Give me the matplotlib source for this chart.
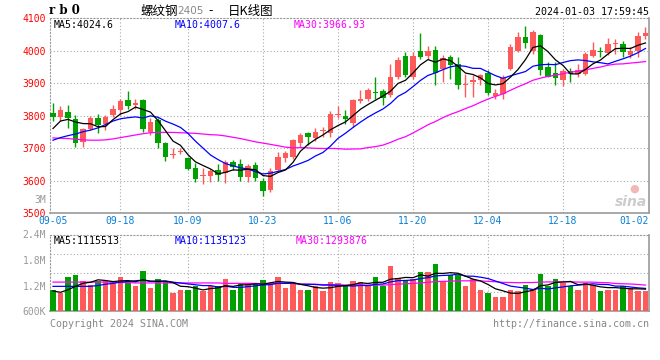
import matplotlib.pyplot as plt

# K-line data, one entry per trading day 2023-09-05 .. 2024-01-03
opens = [3809, 3796, 3812, 3788, 3718, 3760, 3791, 3775, 3803, 3816,
         3847, 3832, 3847, 3748, 3786, 3714, 3680, 3689, 3668, 3638,
         3613, 3615, 3631, 3622, 3656, 3651, 3612, 3648, 3600, 3572,
         3633, 3670, 3673, 3716, 3747, 3732, 3752, 3745, 3802, 3798,
         3776, 3844, 3850, 3872, 3874, 3862, 3918, 3982, 3920, 4000,
         3983, 4003, 3942, 3980, 3957, 3894, 3902, 3908, 3931, 3860,
         3866, 3944, 3997, 4042, 3997, 4048, 3949, 3931, 3910, 3937,
         3927, 3929, 3984, 3999, 3993, 4020, 4020, 3987, 4000, 4045]
highs = [3837, 3830, 3832, 3801, 3762, 3798, 3804, 3801, 3832, 3850,
         3874, 3852, 3852, 3791, 3791, 3719, 3699, 3701, 3673, 3653,
         3638, 3636, 3650, 3663, 3663, 3666, 3651, 3658, 3607, 3638,
         3689, 3691, 3727, 3745, 3750, 3762, 3765, 3813, 3830, 3816,
         3852, 3877, 3885, 3918, 3881, 3959, 3980, 3995, 3995, 4053,
         4015, 4015, 3985, 3985, 3979, 3929, 3924, 3929, 3939, 3883,
         3924, 4020, 4057, 4076, 4063, 4050, 3964, 3964, 3944, 3946,
         3957, 3995, 4027, 4012, 4038, 4035, 4030, 4010, 4057, 4071]
lows = [3783, 3783, 3762, 3704, 3704, 3755, 3745, 3755, 3796, 3801,
        3821, 3821, 3750, 3740, 3701, 3661, 3670, 3681, 3632, 3595,
        3589, 3595, 3600, 3592, 3633, 3600, 3595, 3599, 3553, 3566,
        3628, 3658, 3666, 3704, 3709, 3721, 3735, 3735, 3791, 3775,
        3765, 3840, 3846, 3852, 3832, 3857, 3913, 3918, 3913, 3974,
        3974, 3895, 3903, 3913, 3883, 3858, 3856, 3893, 3863, 3852,
        3852, 3941, 3995, 4008, 3990, 3924, 3918, 3893, 3890, 3902,
        3920, 3924, 3981, 3979, 3987, 3990, 3979, 3977, 3981, 4035]
closes = [3796, 3816, 3793, 3714, 3757, 3793, 3770, 3796, 3821, 3844,
          3829, 3840, 3758, 3781, 3714, 3673, 3681, 3692, 3636, 3605,
          3617, 3628, 3617, 3658, 3643, 3612, 3646, 3607, 3568, 3630,
          3671, 3686, 3724, 3740, 3733, 3750, 3754, 3804, 3804, 3789,
          3847, 3852, 3877, 3870, 3854, 3920, 3972, 3926, 3982, 3980,
          4000, 3932, 3976, 3956, 3893, 3896, 3910, 3924, 3870, 3870,
          3916, 4010, 4042, 4022, 4057, 3941, 3920, 3916, 3937, 3927,
          3939, 3990, 4002, 3995, 4020, 4022, 3995, 3999, 4045, 4055]

ma5 = [3760, 3783, 3788, 3780, 3775.2, 3774.6, 3765.4, 3766.0, 3787.4, 3804.8,
       3812.0, 3826.0, 3818.4, 3810.4, 3784.4, 3753.2, 3721.4, 3708.2, 3679.2, 3657.4,
       3646.2, 3635.6, 3620.6, 3625.0, 3632.6, 3631.6, 3635.2, 3633.2, 3615.2, 3612.6,
       3624.4, 3632.4, 3655.8, 3690.2, 3710.8, 3726.6, 3740.2, 3756.2, 3769.0, 3780.2,
       3799.6, 3819.2, 3833.8, 3847.0, 3860.0, 3874.6, 3898.6, 3908.4, 3930.8, 3956.0,
       3972.0, 3964.0, 3974.0, 3968.8, 3951.4, 3930.6, 3926.2, 3915.8, 3898.6, 3894.0,
       3898.0, 3918.0, 3941.6, 3972.0, 4009.4, 4014.4, 3996.4, 3971.2, 3954.2, 3928.2,
       3927.8, 3941.8, 3959.0, 3970.6, 3989.2, 4005.8, 4006.8, 4006.2, 4016.2, 4023.2]
ma10 = [3724, 3732, 3738, 3743, 3750, 3755, 3762, 3772, 3783, 3790.0,
        3793.3, 3795.7, 3792.2, 3798.9, 3794.6, 3782.6, 3773.7, 3763.3, 3744.8, 3720.9,
        3699.7, 3678.5, 3664.4, 3652.1, 3645.0, 3638.9, 3635.4, 3626.9, 3620.1, 3622.6,
        3628.0, 3633.8, 3644.5, 3652.7, 3661.7, 3675.5, 3686.3, 3706.0, 3729.6, 3745.5,
        3763.1, 3779.7, 3795.0, 3808.0, 3820.1, 3837.1, 3858.9, 3871.1, 3888.9, 3908.0,
        3923.3, 3931.3, 3941.2, 3949.8, 3953.7, 3951.3, 3945.1, 3944.9, 3933.7, 3922.7,
        3914.3, 3922.1, 3928.7, 3935.3, 3951.7, 3956.2, 3957.2, 3956.4, 3963.1, 3968.8,
        3971.1, 3969.1, 3965.1, 3962.4, 3958.7, 3966.8, 3974.3, 3982.6, 3993.4, 4006.2]
ma30 = [3731, 3730, 3729, 3727, 3725, 3724, 3724, 3725, 3728, 3732,
        3736, 3740, 3744, 3747, 3748, 3748, 3748, 3747, 3746, 3745,
        3743, 3741, 3740, 3737, 3733, 3729, 3724, 3719, 3715, 3711.2,
        3707.0, 3702.7, 3700.4, 3701.2, 3700.4, 3699.0, 3698.5, 3698.7, 3698.2, 3696.3,
        3696.9, 3697.3, 3701.3, 3704.3, 3708.9, 3717.2, 3726.9, 3734.7, 3746.2, 3758.7,
        3771.5, 3781.6, 3793.6, 3803.5, 3811.8, 3821.3, 3830.1, 3840.7, 3850.7, 3858.7,
        3866.9, 3877.7, 3888.3, 3897.7, 3908.5, 3914.9, 3920.4, 3924.1, 3928.6, 3933.2,
        3936.2, 3940.8, 3945.0, 3949.2, 3954.7, 3958.1, 3958.9, 3961.3, 3963.4, 3965.9]

# volume, millions of lots
volumes = [1.10, 1.02, 1.39, 1.44, 1.31, 1.22, 1.31, 1.31, 1.31, 1.39,
           1.26, 1.18, 1.53, 1.15, 1.36, 1.28, 1.02, 1.10, 1.10, 1.19,
           1.07, 1.18, 1.18, 1.36, 1.10, 1.24, 1.22, 1.27, 1.33, 1.26,
           1.39, 1.15, 1.23, 1.10, 1.10, 1.19, 1.07, 1.28, 1.26, 1.18,
           1.31, 1.29, 1.20, 1.39, 1.19, 1.67, 1.37, 1.33, 1.36, 1.52,
           1.52, 1.71, 1.31, 1.45, 1.45, 1.18, 1.36, 1.10, 1.03, 0.94,
           0.94, 1.10, 1.06, 1.22, 1.12, 1.48, 1.19, 1.36, 1.26, 1.19,
           1.10, 1.26, 1.22, 1.07, 1.10, 1.10, 1.19, 1.15, 1.07, 1.06]
vma5 = [1.07, 1.04, 1.10, 1.18, 1.252, 1.276, 1.334, 1.318, 1.292, 1.308,
        1.316, 1.290, 1.334, 1.302, 1.296, 1.300, 1.268, 1.182, 1.172, 1.138,
        1.096, 1.128, 1.144, 1.196, 1.178, 1.212, 1.220, 1.238, 1.232, 1.264,
        1.294, 1.280, 1.272, 1.226, 1.194, 1.154, 1.138, 1.148, 1.180, 1.196,
        1.220, 1.264, 1.248, 1.274, 1.276, 1.348, 1.364, 1.390, 1.384, 1.450,
        1.420, 1.488, 1.484, 1.502, 1.488, 1.420, 1.350, 1.308, 1.224, 1.122,
        1.074, 1.022, 1.014, 1.052, 1.088, 1.196, 1.214, 1.274, 1.282, 1.296,
        1.220, 1.234, 1.206, 1.168, 1.150, 1.150, 1.136, 1.122, 1.122, 1.114]
vma10 = [1.18, 1.18, 1.18, 1.18, 1.18, 1.18, 1.20, 1.23, 1.25, 1.280,
         1.296, 1.312, 1.326, 1.297, 1.302, 1.308, 1.279, 1.258, 1.237, 1.217,
         1.198, 1.198, 1.163, 1.184, 1.158, 1.154, 1.174, 1.191, 1.214, 1.221,
         1.253, 1.250, 1.255, 1.229, 1.229, 1.224, 1.209, 1.210, 1.203, 1.195,
         1.187, 1.201, 1.198, 1.227, 1.236, 1.284, 1.314, 1.319, 1.329, 1.363,
         1.384, 1.426, 1.437, 1.443, 1.469, 1.420, 1.419, 1.396, 1.363, 1.305,
         1.247, 1.186, 1.161, 1.138, 1.105, 1.135, 1.118, 1.144, 1.167, 1.192,
         1.208, 1.224, 1.240, 1.225, 1.223, 1.185, 1.185, 1.164, 1.145, 1.132]
vma30 = [1.28, 1.28, 1.28, 1.28, 1.28, 1.28, 1.28, 1.28, 1.28, 1.27,
         1.27, 1.26, 1.26, 1.26, 1.26, 1.26, 1.26, 1.26, 1.26, 1.26,
         1.26, 1.26, 1.26, 1.25, 1.25, 1.25, 1.25, 1.25, 1.24, 1.239,
         1.249, 1.253, 1.248, 1.237, 1.230, 1.229, 1.221, 1.220, 1.218, 1.211,
         1.213, 1.216, 1.205, 1.213, 1.208, 1.221, 1.232, 1.240, 1.249, 1.260,
         1.275, 1.292, 1.297, 1.300, 1.311, 1.309, 1.314, 1.308, 1.298, 1.288,
         1.273, 1.271, 1.265, 1.269, 1.270, 1.280, 1.284, 1.286, 1.286, 1.287,
         1.280, 1.279, 1.279, 1.269, 1.266, 1.247, 1.241, 1.235, 1.225, 1.210]

date_labels = ['09-05', '09-18', '10-09', '10-23', '11-06', '11-20', '12-04', '12-18', '01-02']
date_index = [0, 9, 18, 28, 38, 48, 58, 68, 78]
price_ticks = [3500, 3600, 3700, 3800, 3900, 4000, 4100]
vol_ticks = [0.6, 1.2, 1.8, 2.4]
vol_tick_labels = ['600K', '1.2M', '1.8M', '2.4M']

RED = '#ff5a5a'
GREEN = '#00a000'
GRID = '#aaaaaa'
DOT = (0, (1, 2))
W, H = 660, 360


def box(l, t, r, b):
    return [l / W, 1 - b / H, (r - l) / W, (b - t) / H]


def ftext(x, y, s, **kw):
    kw.setdefault('va', 'center')
    return plt.figtext(x / W, 1 - y / H, s, **kw)


def frame(a):
    for side in ['left', 'top']:
        a.spines[side].set_linestyle(DOT)
        a.spines[side].set_color('#999999')
    for side in ['right', 'bottom']:
        a.spines[side].set_color('#999999')
        a.spines[side].set_linewidth(1.2)


def main():
    plt.rcParams['font.family'] = 'DejaVu Sans Mono'
    fig = plt.figure(figsize=(6.6, 3.6), dpi=100)
    n = len(closes)
    x = list(range(n))
    cols = [RED if c >= o else GREEN for o, c in zip(opens, closes)]

    # price panel
    ax = fig.add_axes(box(50, 18, 649, 213))
    for v in price_ticks[1:-1]:
        ax.axhline(v, color=GRID, lw=0.8, ls=DOT, zorder=1)
    for p in date_index[1:-1]:
        ax.axvline(p, color=GRID, lw=0.8, ls=DOT, zorder=1)
    ax.vlines(x, lows, highs, colors=cols, lw=1, zorder=3)
    bottoms = [min(o, c) for o, c in zip(opens, closes)]
    heights = [max(abs(c - o), 3) for o, c in zip(opens, closes)]
    ax.bar(x, heights, bottom=bottoms, width=0.72, color=cols, lw=0, zorder=4)
    ax.plot(x, ma30, color='#ff00ff', lw=0.9, zorder=5)
    ax.plot(x, ma10, color='#0000ff', lw=0.9, zorder=5)
    ax.plot(x, ma5, color='black', lw=0.9, zorder=6)
    ax.set_xlim(-0.4, 79.47)
    ax.set_ylim(3500, 4100)
    ax.set_xticks([])
    ax.set_yticks(price_ticks)
    ax.tick_params(axis='y', length=0, pad=2.9, labelsize=7, labelcolor='#ff0000')
    frame(ax)
    tr = ax.get_xaxis_transform()
    for lab, p in zip(date_labels[:-1], date_index[:-1]):
        ax.text(p, -0.041, lab, transform=tr, ha='center', va='center',
                fontsize=7, color='#0a7fd6')
    ax.text(1.0, -0.041, date_labels[-1], transform=ax.transAxes, ha='right',
            va='center', fontsize=7, color='#0a7fd6')

    # volume panel
    ax2 = fig.add_axes(box(50, 234.5, 649, 311))
    for v in [1.05, 1.5, 1.95]:
        ax2.axhline(v, color=GRID, lw=0.8, ls=DOT, zorder=1)
    for p in date_index[1:-1]:
        ax2.axvline(p, color=GRID, lw=0.8, ls=DOT, zorder=1)
    ax2.bar(x, volumes, width=0.72, color=cols, lw=0, zorder=3)
    ax2.plot(x, vma30, color='#ff00ff', lw=0.9, zorder=5)
    ax2.plot(x, vma10, color='#0000ff', lw=0.9, zorder=5)
    ax2.plot(x, vma5, color='black', lw=0.9, zorder=6)
    ax2.set_xlim(-0.4, 79.47)
    ax2.set_ylim(0.6, 2.4)
    ax2.set_xticks([])
    ax2.set_yticks(vol_ticks, vol_tick_labels)
    ax2.tick_params(axis='y', length=0, pad=2.9, labelsize=7, labelcolor='#999999')
    frame(ax2)

    # header texts
    ftext(49, 11, 'r b 0', fontsize=8.5, family='DejaVu Serif', weight='bold')
    cjk = ['Noto Sans CJK SC', 'DejaVu Sans']
    ftext(140, 11, '螺纹钢', fontsize=9, family=cjk)
    ftext(177, 11.5, '2405', fontsize=7.5, family='DejaVu Sans', color='#888888')
    ftext(208, 11, '-', fontsize=9, family=cjk)
    ftext(228, 11, '日K线图', fontsize=9, family=cjk)
    ftext(649, 12, '2024-01-03 17:59:45', fontsize=7.2, ha='right')

    ftext(54, 25, 'MA5:4024.6', fontsize=7.1, color='black')
    ftext(175, 25, 'MA10:4007.6', fontsize=7.1, color='#0000ff')
    ftext(294, 25, 'MA30:3966.93', fontsize=7.1, color='#ff00ff')
    ftext(46, 200, '3M', fontsize=7, color='#999999', ha='right')

    ftext(54, 241, 'MA5:1115513', fontsize=7.1, color='black')
    ftext(175, 241, 'MA10:1135123', fontsize=7.1, color='#0000ff')
    ftext(296, 241, 'MA30:1293876', fontsize=7.1, color='#ff00ff')

    ftext(50, 324, 'Copyright 2024 SINA.COM', fontsize=7.2, color='#888888')
    ftext(649, 324, 'http://finance.sina.com.cn', fontsize=7.2, color='#888888', ha='right')

    # sina watermark
    ftext(634, 189, '●', fontsize=8, family='DejaVu Sans', color='#f2b8b8', ha='center')
    ftext(631, 202, 'sina', fontsize=10, family='DejaVu Sans', weight='bold',
          style='italic', color='#cccccc', ha='center')

    fig.savefig('out.png', dpi=100)


if __name__ == "__main__":
    main()
